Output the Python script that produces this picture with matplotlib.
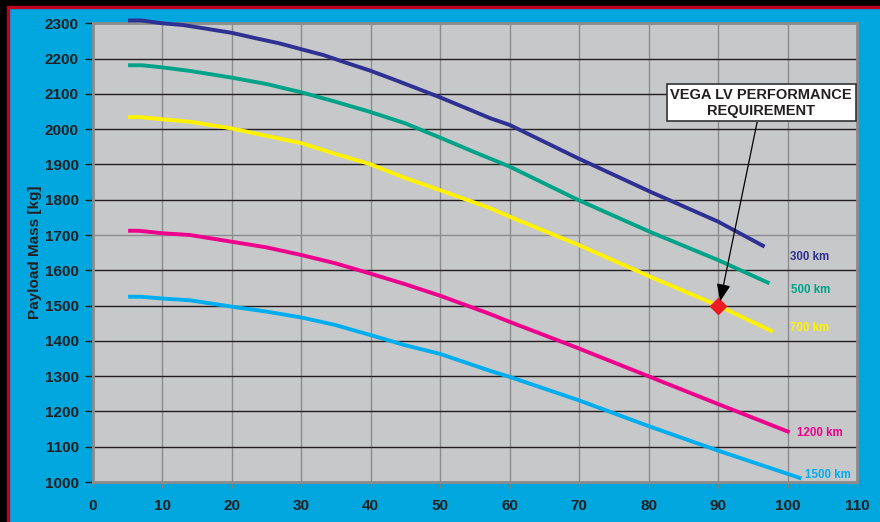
import matplotlib.pyplot as plt
from matplotlib.patches import Rectangle

plt.rcParams['font.family'] = ['Liberation Sans', 'DejaVu Sans']
plt.rcParams['font.weight'] = 'bold'

# Dados (inclinacao [graus] x massa de carga util [kg])
x_300 = [5.1, 7.0, 10.0, 13.0, 15.9, 20.0, 23.6, 26.9, 30.1, 33.2, 36.5, 39.9, 43.3, 46.6, 50.0,
         53.8, 57.2, 60.0, 69.9, 80.2, 90.0, 96.7]
y_300 = [2308, 2308, 2300, 2295, 2286, 2273, 2257, 2243, 2226, 2210, 2188, 2166, 2141, 2116, 2090,
         2059, 2031, 2012, 1917, 1823, 1738, 1667]

x_500 = [5.1, 7.1, 10.0, 14.0, 20.0, 25.0, 30.1, 34.9, 39.9, 44.9, 50.0, 54.8, 60.0, 69.9, 80.2, 90.0, 97.4]
y_500 = [2181, 2181, 2175, 2165, 2146, 2128, 2104, 2078, 2049, 2017, 1976, 1936, 1894, 1799, 1709, 1629, 1563]

x_700 = [5.1, 6.8, 10.0, 14.0, 20.0, 25.0, 30.1, 34.9, 39.9, 44.9, 50.0, 57.2, 60.0, 69.9, 80.2, 90.0, 97.9]
y_700 = [2034, 2034, 2028, 2021, 2002, 1981, 1960, 1930, 1901, 1862, 1827, 1776, 1752, 1672, 1582, 1500, 1426]

x_1200 = [5.1, 6.6, 10.0, 14.0, 20.0, 25.0, 30.1, 34.9, 39.9, 44.9, 50.0, 57.2, 60.0, 69.9, 80.2, 90.0, 100.3]
y_1200 = [1712, 1712, 1705, 1700, 1681, 1665, 1643, 1620, 1591, 1561, 1528, 1476, 1454, 1379, 1298, 1221, 1141]

x_1500 = [5.1, 7.0, 10.0, 14.0, 20.0, 25.0, 30.1, 34.9, 39.9, 44.9, 50.0, 57.2, 60.0, 69.9, 80.2, 90.0, 97.0, 102.0]
y_1500 = [1525, 1525, 1520, 1515, 1497, 1483, 1466, 1445, 1417, 1388, 1363, 1315, 1298, 1232, 1157, 1089, 1043, 1010]

rotulos = ['300 km', '500 km', '700 km', '1200 km', '1500 km']
rotulo_x = [100.3, 100.5, 100.3, 101.3, 102.5]
rotulo_y = [1638, 1544, 1436, 1138, 1020]

req_x = 90
req_y = 1500

x_ticks = list(range(0, 111, 10))
y_ticks = list(range(1000, 2301, 100))

cores = ['#2E3192', '#00A388', '#FFF200', '#EC008C', '#00AEEF']
fundo = '#00A6DE'
cinza = '#C7C8CA'
texto = '#231F20'

fig = plt.figure(figsize=(8.8, 5.22), dpi=100, facecolor=fundo)
ax = fig.add_axes([0.1053, 0.0766, 0.8686, 0.8788])
ax.set_facecolor(cinza)

series = [(x_300, y_300), (x_500, y_500), (x_700, y_700), (x_1200, y_1200), (x_1500, y_1500)]
for (xs, ys), cor in zip(series, cores):
    ax.plot(xs, ys, color=cor, lw=2.8, solid_capstyle='butt', zorder=3, clip_on=False)

for txt, tx, ty, cor in zip(rotulos, rotulo_x, rotulo_y, cores):
    ax.text(tx, ty, txt, color=cor, fontsize=8.3, fontweight='bold', va='center', ha='left', zorder=4)

# Requisito de desempenho do VEGA
ax.plot([req_x], [req_y], marker='D', color='#ED1C24', markersize=8, zorder=5, clip_on=False)
ax.annotate('VEGA LV PERFORMANCE\nREQUIREMENT', xy=(req_x + 0.3, req_y + 12), xytext=(96.2, 2075),
            ha='center', va='center', fontsize=10.5, fontweight='bold', color=texto, linespacing=1.2,
            bbox=dict(boxstyle='square,pad=0.25', fc='white', ec='#333333', lw=1.2),
            arrowprops=dict(arrowstyle='-|>,head_length=1.0,head_width=0.4', color='black', lw=0.9,
                            shrinkA=0, shrinkB=0),
            zorder=6)

ax.set_xlim(0, 110)
ax.set_ylim(1000, 2300)
ax.set_xticks(x_ticks)
ax.set_yticks(y_ticks)
ax.tick_params(axis='both', labelsize=11, labelcolor=texto, width=1)
ax.tick_params(axis='y', length=6, color=texto, pad=4)
ax.tick_params(axis='x', length=4, color='#808080', pad=8)
for lbl in ax.get_xticklabels() + ax.get_yticklabels():
    lbl.set_fontweight('bold')

ax.grid(axis='x', color='#8C8C8C', lw=1)
ax.grid(axis='y', color=texto, lw=1)
ax.get_ygridlines()[7].set_color('#8C8C8C')
ax.set_axisbelow(True)
for s in ax.spines.values():
    s.set_color('#8C8C8C')
    s.set_linewidth(2)

ax.set_ylabel('Payload Mass [kg]', fontsize=11, fontweight='bold', color=texto, labelpad=2)

# moldura preta/vermelha nas bordas
fig.patches.append(Rectangle((0, 0), 7 / 880, 1, transform=fig.transFigure, color='black', zorder=0))
fig.patches.append(Rectangle((7 / 880, 0), 1.5 / 880, 1 - 6 / 522, transform=fig.transFigure,
                             color='#C00020', zorder=0))
fig.patches.append(Rectangle((0, 1 - 6 / 522), 1, 6 / 522, transform=fig.transFigure, color='black', zorder=0))
fig.patches.append(Rectangle((7 / 880, 1 - 7.5 / 522), 1, 1.5 / 522, transform=fig.transFigure,
                             color='#C00020', zorder=0))

plt.savefig('out.png', dpi=100, facecolor=fundo)
